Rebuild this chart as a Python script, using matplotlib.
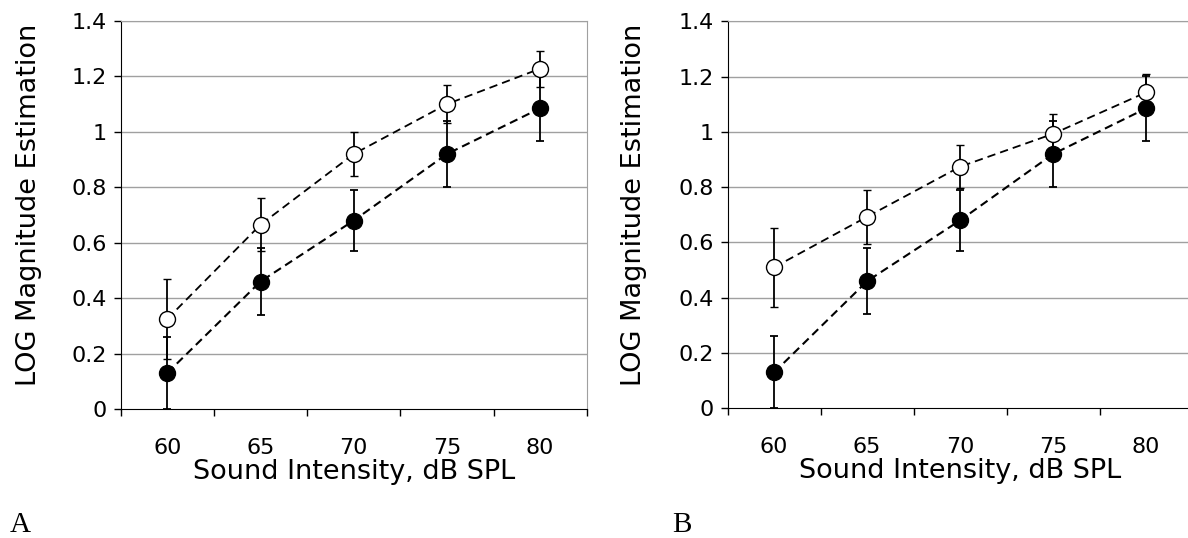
import matplotlib
matplotlib.use('Agg')
import matplotlib.pyplot as plt
import numpy as np

intensity = ['60', '65', '70', '75', '80']

# filled circles (same in both panels)
filled_mean = [0.13, 0.46, 0.68, 0.92, 1.085]
filled_err = [0.13, 0.12, 0.11, 0.12, 0.118]

# open circles, panel A
open_a_mean = [0.325, 0.665, 0.92, 1.10, 1.228]
open_a_err = [0.143, 0.095, 0.08, 0.068, 0.065]

# open circles, panel B
open_b_mean = [0.51, 0.693, 0.874, 0.993, 1.143]
open_b_err = [0.143, 0.097, 0.077, 0.07, 0.065]

y_ticks = [0, 0.2, 0.4, 0.6, 0.8, 1.0, 1.2, 1.4]
y_tick_labels = ['0', '0.2', '0.4', '0.6', '0.8', '1', '1.2', '1.4']

plt.rcParams['font.family'] = ['DejaVu Sans']


def draw_panel(ax, open_mean, open_err, ylab_x):
    x = np.arange(len(intensity))
    for y in y_ticks[1:]:
        ax.axhline(y, color='#a0a0a0', lw=1.0, zorder=0)
    ax.errorbar(x, filled_mean, yerr=filled_err, fmt='o', ls=(0, (4, 2.4)),
                color='k', lw=1.5, elinewidth=1.3, capsize=3,
                capthick=1.3, ms=11.5, mfc='k', mec='k', zorder=3)
    ax.errorbar(x, open_mean, yerr=open_err, fmt='o', ls=(0, (4.6, 2.8)),
                color='k', lw=1.3, elinewidth=1.3, capsize=3,
                capthick=1.3, ms=11.5, mfc='white', mec='k', mew=1.0,
                zorder=4)
    ax.set_xlim(-0.5, len(intensity) - 0.5)
    ax.set_ylim(0, 1.4)
    ax.set_yticks(y_ticks)
    ax.set_yticklabels(y_tick_labels, fontsize=16)
    ax.tick_params(axis='y', direction='out', length=5, width=1, pad=5)
    # category boundaries as major ticks, labels on minor ticks
    ax.set_xticks(np.arange(-0.5, len(intensity), 1.0))
    ax.set_xticklabels([])
    ax.set_xticks(x, minor=True)
    ax.set_xticklabels(intensity, minor=True, fontsize=16)
    ax.tick_params(axis='x', which='major', direction='out', length=5,
                   width=1)
    ax.tick_params(axis='x', which='minor', length=0, pad=21)
    ax.spines['left'].set_color('k')
    ax.spines['bottom'].set_color('k')
    ax.spines['right'].set_color('#a0a0a0')
    ax.spines['top'].set_color('#a0a0a0')
    ax.set_ylabel('LOG Magnitude Estimation', fontsize=19.5)
    ax.yaxis.set_label_coords(ylab_x, 0.526)
    ax.set_xlabel('Sound Intensity, dB SPL', fontsize=19.5)
    ax.xaxis.set_label_coords(0.5, -0.128)
    ax.xaxis.label.set_va('top')


fig = plt.figure(figsize=(11.88, 5.38), dpi=100)
ax_a = fig.add_axes([0.1016, 0.2398, 0.3923, 0.7212])
ax_b = fig.add_axes([0.6125, 0.2411, 0.3914, 0.7193])

draw_panel(ax_a, open_a_mean, open_a_err, -0.169)
draw_panel(ax_b, open_b_mean, open_b_err, -0.1735)

fig.text(10 / 1188, 6 / 538, 'A', family='Liberation Serif', fontsize=21,
         va='baseline')
fig.text(672 / 1188, 6 / 538, 'B', family='Liberation Serif', fontsize=21,
         va='baseline')

fig.savefig('out.png', dpi=100)
